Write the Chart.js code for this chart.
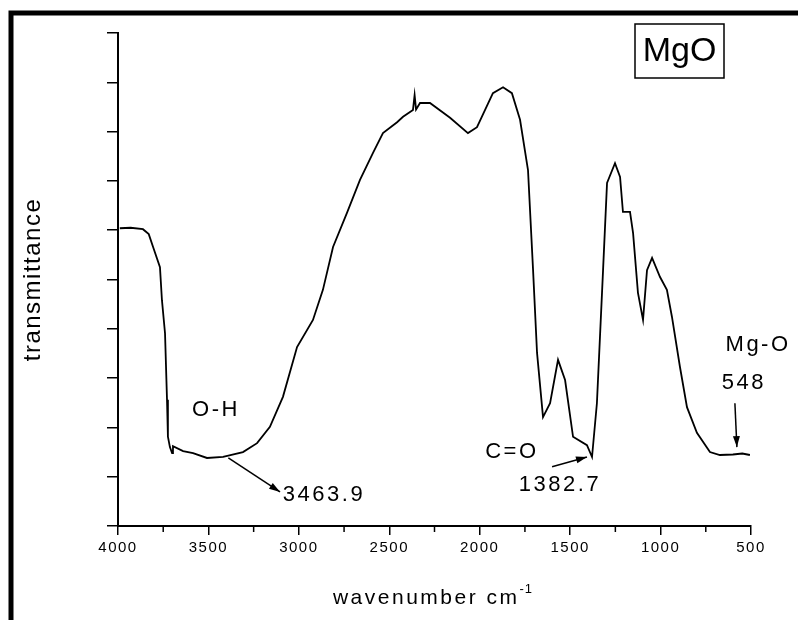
<!DOCTYPE html>
<html>
<head>
<meta charset="utf-8">
<script src="https://cdn.jsdelivr.net/npm/chart.js@4"></script>
<style>
  html, body { margin: 0; padding: 0; background: #fff; }
  canvas { display: block; }
</style>
</head>
<body>
<canvas id="chart" width="798" height="620"></canvas>
<script>
// FTIR spectrum of MgO (wavenumber cm-1, transmittance in tick units)
const wavenumbers = [3990, 3930, 3862, 3830, 3806, 3768, 3757, 3740, 3729, 3724, 3713, 3701, 3696,
  3640, 3585, 3508, 3419, 3309, 3231, 3160, 3088, 3010, 2922, 2867, 2811, 2734, 2662, 2590,
  2535, 2457, 2424, 2369, 2360, 2352, 2330, 2275, 2164, 2065, 2015, 1927, 1871, 1822, 1777,
  1733, 1705, 1683, 1650, 1611, 1567, 1528, 1484, 1407, 1379, 1352, 1318, 1296, 1252, 1224,
  1208, 1169, 1152, 1125, 1097, 1075, 1047, 1003, 965, 937, 893, 854, 799, 727, 672, 600, 548, 506];
const transmittance = [6.04, 6.05, 6.02, 5.92, 5.66, 5.25, 4.58, 3.91, 2.56, 1.81, 1.60, 1.48, 1.62,
  1.52, 1.48, 1.38, 1.40, 1.50, 1.68, 2.01, 2.62, 3.63, 4.18, 4.79, 5.66, 6.35, 7.02, 7.57,
  7.97, 8.19, 8.30, 8.44, 8.74, 8.45, 8.58, 8.58, 8.28, 7.97, 8.09, 8.78, 8.90, 8.78, 8.24,
  7.22, 5.19, 3.51, 2.21, 2.49, 3.37, 2.96, 1.81, 1.64, 1.40, 2.49, 5.19, 6.96, 7.36, 7.08,
  6.37, 6.37, 5.94, 4.73, 4.18, 5.19, 5.44, 5.05, 4.79, 4.24, 3.23, 2.41, 1.89, 1.50, 1.44, 1.45, 1.47, 1.44];

const xMajorTicks = [4000, 3500, 3000, 2500, 2000, 1500, 1000, 500];
const xMinorTicks = [3750, 3250, 2750, 2250, 1750, 1250, 750];

// peak labels: [text, wavenumber, transmittance]
const peakLabels = [
  ["O-H", 3458, 2.35],
  ["3463.9", 2861, 0.63],
  ["C=O", 1822, 1.50],
  ["1382.7", 1556, 0.83],
  ["Mg-O", 461, 3.67],
  ["548", 539, 2.90]
];
// arrows: [fromX, fromY, toX, toY] in data units
const peakArrows = [
  [3390, 1.38, 3104, 0.69],
  [1600, 1.20, 1407, 1.40],
  [589, 2.49, 578, 1.60]
];

const FONT = "'Liberation Sans', Arial, sans-serif";

function arrow(ctx, x1, y1, x2, y2) {
  const a = Math.atan2(y2 - y1, x2 - x1);
  ctx.beginPath();
  ctx.moveTo(x1, y1);
  ctx.lineTo(x2, y2);
  ctx.stroke();
  ctx.beginPath();
  ctx.moveTo(x2, y2);
  ctx.lineTo(x2 - 11 * Math.cos(a) + 3.5 * Math.sin(a), y2 - 11 * Math.sin(a) - 3.5 * Math.cos(a));
  ctx.lineTo(x2 - 11 * Math.cos(a) - 3.5 * Math.sin(a), y2 - 11 * Math.sin(a) + 3.5 * Math.cos(a));
  ctx.closePath();
  ctx.fill();
}

const extras = {
  id: "extras",
  beforeDraw(chart) {
    // wider spacing for the tick labels drawn by the scales
    chart.ctx.letterSpacing = "1.5px";
  },
  afterDraw(chart) {
    const ctx = chart.ctx;
    const xs = chart.scales.x, ys = chart.scales.y;
    const area = chart.chartArea;
    ctx.save();
    ctx.strokeStyle = "#000";
    ctx.fillStyle = "#000";

    // outer frame (left and top edges)
    ctx.lineWidth = 5;
    ctx.beginPath();
    ctx.moveTo(11, 620);
    ctx.lineTo(11, 13);
    ctx.lineTo(798, 13);
    ctx.stroke();

    // minor ticks on x
    ctx.lineWidth = 1.5;
    xMinorTicks.forEach(v => {
      const px = xs.getPixelForValue(v);
      ctx.beginPath();
      ctx.moveTo(px, area.bottom);
      ctx.lineTo(px, area.bottom + 6);
      ctx.stroke();
    });

    // axis titles
    ctx.textAlign = "center";
    ctx.textBaseline = "middle";
    ctx.font = "24px " + FONT;
    ctx.letterSpacing = "1.5px";
    ctx.save();
    ctx.translate(33, (area.top + area.bottom) / 2);
    ctx.rotate(-Math.PI / 2);
    ctx.fillText("transmittance", 0, 0);
    ctx.restore();

    ctx.letterSpacing = "2.5px";
    const main = "wavenumber cm";
    ctx.font = "21px " + FONT;
    const w1 = ctx.measureText(main).width;
    ctx.font = "13px " + FONT;
    const w2 = ctx.measureText("-1").width;
    const cx = (area.left + area.right) / 2;
    const startX = cx - (w1 + w2) / 2;
    ctx.textAlign = "left";
    ctx.font = "21px " + FONT;
    ctx.fillText(main, startX, 598);
    ctx.font = "13px " + FONT;
    ctx.letterSpacing = "1px";
    ctx.fillText("-1", startX + w1, 589);

    // sample box
    ctx.letterSpacing = "0px";
    ctx.lineWidth = 1.5;
    ctx.strokeRect(635, 24, 89, 54);
    ctx.font = "34px " + FONT;
    ctx.textAlign = "center";
    ctx.fillText("MgO", 679.5, 52);

    // peak labels
    ctx.font = "22px " + FONT;
    ctx.letterSpacing = "2.5px";
    peakLabels.forEach(([t, x, y]) => {
      ctx.fillText(t, xs.getPixelForValue(x), ys.getPixelForValue(y));
    });

    ctx.lineWidth = 1.5;
    peakArrows.forEach(([x1, y1, x2, y2]) => {
      arrow(ctx, xs.getPixelForValue(x1), ys.getPixelForValue(y1),
        xs.getPixelForValue(x2), ys.getPixelForValue(y2));
    });
    ctx.restore();
    ctx.letterSpacing = "0px";
  }
};

new Chart(document.getElementById("chart").getContext("2d"), {
  type: "line",
  data: {
    datasets: [{
      data: wavenumbers.map((w, i) => ({ x: w, y: transmittance[i] })),
      borderColor: "#000",
      borderWidth: 1.8,
      pointRadius: 0,
      tension: 0,
      fill: false
    }]
  },
  options: {
    responsive: false,
    animation: false,
    layout: { padding: { left: 0, top: 33, right: 47, bottom: 0 } },
    plugins: { legend: { display: false }, tooltip: { enabled: false } },
    scales: {
      x: {
        type: "linear",
        reverse: true,
        min: 500,
        max: 4000,
        afterFit(scale) { scale.height = 94; },
        afterBuildTicks(scale) { scale.ticks = xMajorTicks.map(v => ({ value: v })); },
        ticks: {
          color: "#000",
          font: { family: FONT, size: 15 },
          maxRotation: 0,
          autoSkip: false,
          padding: 4,
          callback: v => String(v)
        },
        grid: { drawOnChartArea: false, drawTicks: true, tickLength: 9, color: "#000", lineWidth: 1.5 },
        border: { display: true, color: "#000", width: 2 }
      },
      y: {
        min: 0,
        max: 10,
        afterFit(scale) { scale.width = 118; },
        ticks: { stepSize: 1, display: false },
        grid: { drawOnChartArea: false, drawTicks: true, tickLength: 11, color: "#000", lineWidth: 1.5 },
        border: { display: true, color: "#000", width: 2 }
      }
    }
  },
  plugins: [extras]
});
</script>
</body>
</html>
